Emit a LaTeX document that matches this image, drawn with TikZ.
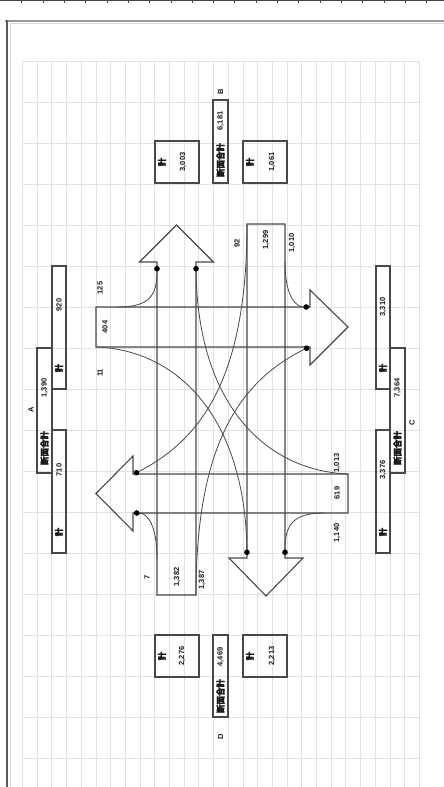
\documentclass[tikz,border=0pt]{standalone}
\usepackage{fontspec}
\setmainfont{Liberation Sans}
\newfontfamily\kanjifont{Noto Sans CJK JP}[FakeBold=1.5]
\usetikzlibrary{arrows.meta, positioning}
\definecolor{lineg}{HTML}{484848}
\definecolor{gridg}{HTML}{E2E2E2}
\newcommand{\cntfont}{\fontsize{7.5}{8}\selectfont\bfseries}
\newcommand{\kjfont}{\kanjifont\fontsize{8.5}{9}\selectfont\bfseries}

\begin{document}
\begin{tikzpicture}[x=1pt, y=-1pt,
  band/.style={draw=lineg, line width=1.1pt, line join=miter},
  turn/.style={draw=lineg, line width=0.8pt, -{Circle[length=5.5pt, color=black]}},
  cnt/.style={font=\cntfont, rotate=90, inner sep=0pt, text=black!90},
  kj/.style={font=\kjfont, rotate=90, inner sep=0pt, text=black!90},
  tbox/.style={draw=lineg, line width=1.1pt},
  gridln/.style={draw=gridg, line width=0.6pt}
]
  \useasboundingbox (0,0) rectangle (444,787);

  % sheet frame and grid
  \draw[lineg, line width=0.8pt] (0,0.5) -- (444,0.5);
  \foreach \i in {0,...,19} \draw[lineg, line width=0.6pt] (21.7+21.3*\i,0) -- ++(0,3);
  \draw[black!40, line width=2pt] (5,20.5) -- (444,20.5);
  \draw[black!15, line width=0.8pt] (10,23.5) -- (444,23.5);
  \draw[black!15, line width=0.8pt] (10,23.5) -- (10,787);
  \draw[black!65, line width=1.8pt] (7,20) -- (7,787);
  \foreach \k in {0,...,17} \draw[gridln] (22.3,61+41*\k) -- (419.2,61+41*\k);
  \foreach \k in {0,...,27} \draw[gridln] (22.3+14.7*\k,61) -- (22.3+14.7*\k,787);

  % flow bands
  \draw[band] (96,307) -- (310,307) -- (310,290) -- (348,327) -- (310,365) -- (310,347) -- (96,347) -- cycle;
  \draw[band] (348,474) -- (133,474) -- (133,456) -- (96,493.5) -- (133,531) -- (133,513) -- (348,513) -- cycle;
  \draw[band] (157,595) -- (157,262) -- (139.5,262) -- (176.5,225) -- (213.5,262) -- (196,262) -- (196,595) -- cycle;
  \draw[band] (247,224) -- (247,558) -- (229,558) -- (266,596) -- (303,558) -- (285,558) -- (285,224) -- cycle;

  % turning flows
  \coordinate (a-ls) at (118,307);   \coordinate (b-le) at (157,266);
  \coordinate (a-rs) at (96,347);    \coordinate (d-re) at (247,555);
  \coordinate (b-ls) at (285,262);   \coordinate (c-le) at (309,307);
  \coordinate (b-rs) at (247,224);   \coordinate (a-re) at (134,474);
  \coordinate (c-ls) at (324.5,513); \coordinate (d-le) at (285,555);
  \coordinate (c-rs) at (348,474);   \coordinate (b-re) at (196,266);
  \coordinate (d-ls) at (157,558.5); \coordinate (a-le) at (134,513);
  \coordinate (d-rs) at (196,595);   \coordinate (c-re) at (309,347);
  \draw[turn] (a-ls) .. controls (150,307) and (157,295) .. (b-le);
  \draw[turn] (a-rs) .. controls (180,350) and (245,420) .. (d-re);
  \draw[turn] (b-ls) .. controls (285,295) and (295,307) .. (c-le);
  \draw[turn] (b-rs) .. controls (247,380) and (200,440) .. (a-re);
  \draw[turn] (c-ls) .. controls (292.5,513) and (285,525) .. (d-le);
  \draw[turn] (c-rs) .. controls (262.5,470.5) and (197.5,400.5) .. (b-re);
  \draw[turn] (d-ls) .. controls (157,525.5) and (147.5,513) .. (a-le);
  \draw[turn] (d-rs) .. controls (196,440) and (242.5,380) .. (c-re);

  % movement counts
  \node[cnt] (na1) at (100,288) {125};
  \node[cnt] (na2) at (105,327) {404};
  \node[cnt] (na3) at (100,373) {11};
  \node[cnt] (nb1) at (237,243) {92};
  \node[cnt] (nb2) at (266,240) {1,299};
  \node[cnt] (nb3) at (292,243) {1,010};
  \node[cnt] (nc1) at (337,463) {1,013};
  \node[cnt] (nc2) at (337,493) {619};
  \node[cnt] (nc3) at (337,533) {1,140};
  \node[cnt] (nd1) at (147,577) {7};
  \node[cnt] (nd2) at (177,577) {1,382};
  \node[cnt] (nd3) at (202,580) {1,387};

  % approach A
  \draw[tbox] (52,266) rectangle (66,389);
  \draw[tbox] (37,348) rectangle (52,473);
  \draw[tbox] (52,430) rectangle (66,553);
  \node[cnt] (a-in) at (59,305) {920};
  \node[kj]  (a-ik) at (59,368) {計};
  \node[cnt] (a-sum) at (44.5,388) {1,390};
  \node[kj]  (a-sk) at (44.5,448) {断面合計};
  \node[cnt] (a-out) at (59,470) {710};
  \node[kj]  (a-ok) at (59,532) {計};
  \node[cnt] (lab-a) at (31,410) {A};

  % approach C
  \draw[tbox] (376,266) rectangle (390,389);
  \draw[tbox] (390,348) rectangle (405,473);
  \draw[tbox] (376,430) rectangle (390,553);
  \node[cnt] (c-in) at (383,307) {3,310};
  \node[kj]  (c-ik) at (383,368) {計};
  \node[cnt] (c-sum) at (397.5,388) {7,364};
  \node[kj]  (c-sk) at (397.5,448) {断面合計};
  \node[cnt] (c-out) at (383,470) {3,376};
  \node[kj]  (c-ok) at (383,532) {計};
  \node[cnt] (lab-c) at (412,423) {C};

  % approach B
  \draw[tbox] (155,141) rectangle (199,183);
  \draw[tbox] (213,100) rectangle (228,183);
  \draw[tbox] (243,141) rectangle (287,183);
  \node[kj]  (b-ik) at (162,162) {計};
  \node[cnt] (b-in) at (183,162) {3,003};
  \node[cnt] (b-sum) at (220.5,121) {6,181};
  \node[kj]  (b-sk) at (220.5,160) {断面合計};
  \node[kj]  (b-ok) at (250,162) {計};
  \node[cnt] (b-out) at (272,162) {1,061};
  \node[cnt] (lab-b) at (220.5,92) {B};

  % approach D
  \draw[tbox] (155,635) rectangle (199,677);
  \draw[tbox] (213,635) rectangle (228,717);
  \draw[tbox] (243,635) rectangle (287,677);
  \node[kj]  (d-ik) at (162,656) {計};
  \node[cnt] (d-in) at (182,656) {2,276};
  \node[cnt] (d-sum) at (220.5,657) {4,469};
  \node[kj]  (d-sk) at (220.5,696) {断面合計};
  \node[kj]  (d-ok) at (250,656) {計};
  \node[cnt] (d-out) at (272,656) {2,213};
  \node[cnt] (lab-d) at (220.5,737) {D};
\end{tikzpicture}
\end{document}
